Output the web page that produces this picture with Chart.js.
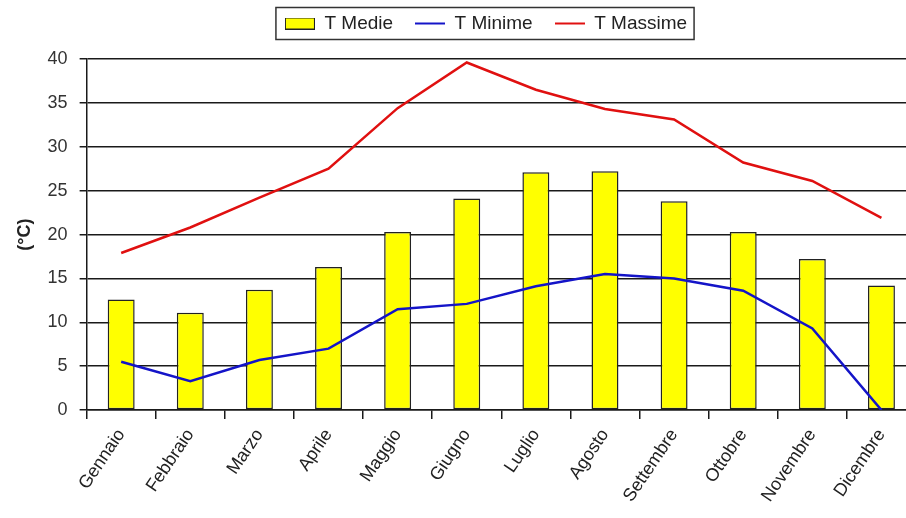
<!DOCTYPE html>
<html>
<head>
<meta charset="utf-8">
<script src="https://cdn.jsdelivr.net/npm/chart.js@4"></script>
<style>
  html, body { margin: 0; padding: 0; background: #fff; overflow: hidden; }
  #chart { display: block; }
</style>
</head>
<body>
<canvas id="chart" width="916" height="518"></canvas>
<script>
// Temperature mensili
const mesi = ['Gennaio', 'Febbraio', 'Marzo', 'Aprile', 'Maggio', 'Giugno',
              'Luglio', 'Agosto', 'Settembre', 'Ottobre', 'Novembre', 'Dicembre'];
const tMedie   = [12.6, 11.1, 13.7, 16.3, 20.3, 24.1, 27.1, 27.2, 23.8, 20.3, 17.2, 14.2];
const tMinime  = [5.5, 3.3, 5.7, 7.0, 11.5, 12.1, 14.1, 15.5, 15.0, 13.6, 9.3, 0];
const tMassime = [17.9, 20.8, 24.2, 27.5, 34.4, 39.6, 36.5, 34.3, 33.1, 28.2, 26.1, 21.9];
const yTicks   = [0, 5, 10, 15, 20, 25, 30, 35, 40];

// piccole icone per la legenda
const makeIcon = (kind, color) => {
    const c = document.createElement('canvas');
    c.width = 30; c.height = 12;
    const g = c.getContext('2d');
    if (kind === 'box') {
        g.fillStyle = color;
        g.fillRect(0.5, 0.5, 29, 11);
        g.strokeStyle = '#222';
        g.lineWidth = 1;
        g.strokeRect(0.5, 0.5, 29, 11);
    } else {
        g.strokeStyle = color;
        g.lineWidth = 2;
        g.beginPath(); g.moveTo(0, 6); g.lineTo(30, 6); g.stroke();
    }
    return c;
};

// sposta la legenda (nell'originale non è centrata sul canvas) e la incornicia
const LEG_PAD = 22, LEG_FONT = 19;
const LEGEND_DX = 23, LEGEND_DY = -16;
const legendBox = {
    id: 'legendBox',
    afterLayout(chart) {
        const lg = chart.legend;
        if (!lg) return;
        lg.left += LEGEND_DX; lg.right += LEGEND_DX;
        lg.top += LEGEND_DY; lg.bottom += LEGEND_DY;
        lg.legendHitBoxes.forEach(h => { h.left += LEGEND_DX; });
    },
    afterDraw(chart) {
        const lg = chart.legend;
        if (!lg || !lg.legendHitBoxes.length) return;
        const hb = lg.legendHitBoxes;
        const first = hb[0], last = hb[hb.length - 1];
        const cy = lg.top + LEG_PAD + LEG_FONT / 2;
        const ctx = chart.ctx;
        ctx.save();
        ctx.strokeStyle = '#333';
        ctx.lineWidth = 1.5;
        ctx.strokeRect(first.left - 9, cy - 16, last.left + last.width - first.left + 16, 32);
        ctx.restore();
    }
};

const blk = '#1a1a1a';
const fam = 'Liberation Sans, Arial, sans-serif';

new Chart(document.getElementById('chart'), {
    type: 'bar',
    data: {
        labels: mesi,
        datasets: [
            { type: 'bar', label: 'T Medie', data: tMedie, backgroundColor: '#ffff00',
              borderColor: '#222', borderWidth: 1.5, borderSkipped: false,
              barPercentage: 0.39, categoryPercentage: 1, order: 2,
              pointStyle: makeIcon('box', '#ffff00') },
            { type: 'line', label: 'T Minime', data: tMinime, borderColor: '#1414c8',
              backgroundColor: '#1414c8', borderWidth: 2.5, pointRadius: 0, tension: 0, order: 1,
              pointStyle: makeIcon('line', '#1414c8') },
            { type: 'line', label: 'T Massime', data: tMassime, borderColor: '#e01010',
              backgroundColor: '#e01010', borderWidth: 2.5, pointRadius: 0, tension: 0, order: 1,
              pointStyle: makeIcon('line', '#e01010') }
        ]
    },
    options: {
        responsive: false, animation: false, devicePixelRatio: 1,
        layout: { padding: { top: 8, right: 0, left: 10, bottom: 6 } },
        plugins: {
            tooltip: { enabled: false },
            legend: {
                position: 'top',
                labels: {
                    usePointStyle: true, pointStyleWidth: 30, boxHeight: 12,
                    padding: LEG_PAD, color: '#222',
                    sort: (a, b) => a.datasetIndex - b.datasetIndex,
                    font: { family: fam, size: LEG_FONT }
                }
            }
        },
        scales: {
            x: {
                offset: true,
                grid: { display: true, offset: true, drawOnChartArea: false, drawTicks: true,
                        tickLength: 9, color: blk, lineWidth: 1.5 },
                border: { display: true, color: blk, width: 1.5 },
                ticks: { minRotation: 56, maxRotation: 56, padding: 6, color: '#222',
                         font: { family: fam, size: 18 } }
            },
            y: {
                min: 0, max: 40,
                afterBuildTicks: (s) => { s.ticks = yTicks.map(v => ({ value: v })); },
                grid: { color: blk, lineWidth: 1.5, drawTicks: true, tickLength: 7 },
                border: { display: true, color: blk, width: 1.5 },
                ticks: { color: '#333', padding: 12, font: { family: fam, size: 18 } },
                title: { display: true, text: '(°C)', color: '#222', padding: { bottom: 0 },
                         font: { family: fam, size: 18, weight: 'bold' } }
            }
        }
    },
    plugins: [legendBox]
});
</script>
</body>
</html>
